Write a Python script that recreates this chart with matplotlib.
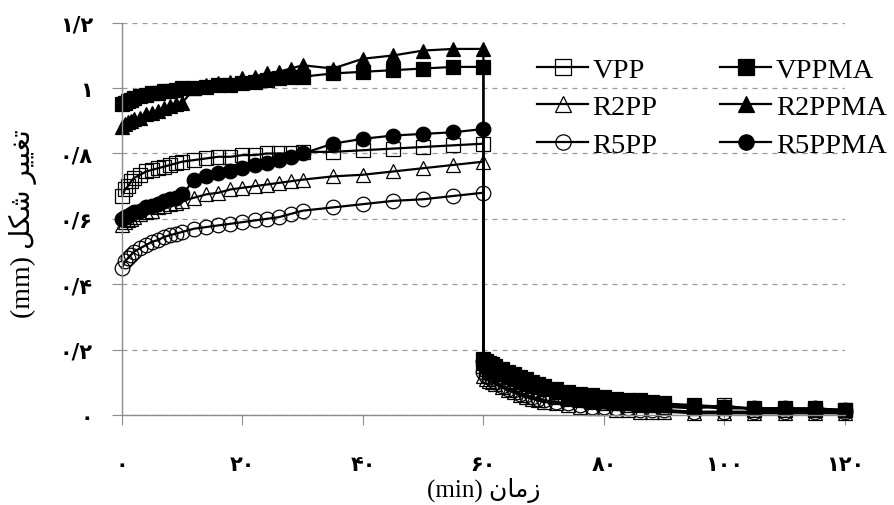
import matplotlib.pyplot as plt

# sampling times (min): creep 0-60, then recovery 60-120
creep_t = [0, 0.5, 1, 1.5, 2, 3, 4, 5, 6, 7, 8, 9, 10, 12, 14, 16, 18, 20, 22, 24, 26, 28, 30,
           35, 40, 45, 50, 55, 60]
rec_t = [60, 60.5, 61, 61.5, 62, 63, 64, 65, 66, 67, 68, 69, 70, 72, 74, 76, 78, 80, 82, 84, 86, 88, 90,
         95, 100, 105, 110, 115, 120]

vpp_creep = [0.67, 0.69, 0.70, 0.715, 0.725, 0.735, 0.745, 0.75, 0.755, 0.76, 0.765, 0.77, 0.775, 0.78,
             0.785, 0.79, 0.79, 0.795, 0.795, 0.80, 0.80, 0.80, 0.805, 0.805, 0.81, 0.815, 0.82, 0.825, 0.83]
vpp_rec = [0.15, 0.14, 0.135, 0.13, 0.125, 0.115, 0.105, 0.095, 0.09, 0.08, 0.075, 0.07, 0.065, 0.055,
           0.05, 0.045, 0.04, 0.035, 0.035, 0.03, 0.03, 0.03, 0.025, 0.02, 0.03, 0.015, 0.015, 0.015, 0.015]

r2pp_creep = [0.58, 0.59, 0.595, 0.60, 0.605, 0.615, 0.62, 0.625, 0.635, 0.64, 0.645, 0.65, 0.655, 0.665,
              0.675, 0.68, 0.69, 0.695, 0.70, 0.705, 0.71, 0.715, 0.72, 0.73, 0.735, 0.745, 0.755, 0.765, 0.775]
r2pp_rec = [0.12, 0.11, 0.105, 0.10, 0.095, 0.085, 0.075, 0.07, 0.06, 0.055, 0.05, 0.045, 0.04, 0.035,
            0.03, 0.025, 0.02, 0.02, 0.015, 0.015, 0.01, 0.01, 0.01, 0.005, 0.005, 0.005, 0.005, 0.005, 0.005]

r5pp_creep = [0.45, 0.47, 0.48, 0.49, 0.50, 0.51, 0.52, 0.53, 0.535, 0.545, 0.55, 0.555, 0.56, 0.57,
              0.575, 0.58, 0.585, 0.59, 0.595, 0.60, 0.605, 0.615, 0.625, 0.635, 0.645, 0.655, 0.66, 0.67, 0.68]
r5pp_rec = [0.13, 0.12, 0.115, 0.11, 0.10, 0.09, 0.08, 0.075, 0.065, 0.06, 0.055, 0.05, 0.045, 0.04,
            0.035, 0.03, 0.025, 0.025, 0.02, 0.02, 0.015, 0.015, 0.015, 0.01, 0.01, 0.01, 0.01, 0.01, 0.01]

vppma_creep = [0.95, 0.955, 0.96, 0.965, 0.97, 0.975, 0.98, 0.985, 0.985, 0.99, 0.99, 0.995, 1.0, 1.0,
               1.005, 1.01, 1.01, 1.015, 1.02, 1.025, 1.03, 1.035, 1.035, 1.045, 1.05, 1.055, 1.06, 1.065, 1.065]
vppma_rec = [0.17, 0.165, 0.16, 0.155, 0.15, 0.14, 0.13, 0.125, 0.115, 0.11, 0.10, 0.095, 0.09, 0.08,
             0.07, 0.065, 0.06, 0.055, 0.05, 0.045, 0.045, 0.04, 0.035, 0.03, 0.025, 0.02, 0.02, 0.02, 0.015]

r2ppma_creep = [0.88, 0.89, 0.895, 0.90, 0.905, 0.91, 0.92, 0.925, 0.93, 0.94, 0.945, 0.95, 0.955, 1.0,
                1.01, 1.015, 1.02, 1.03, 1.035, 1.045, 1.05, 1.06, 1.07, 1.06, 1.09, 1.10, 1.115, 1.12, 1.12]
r2ppma_rec = [0.16, 0.15, 0.145, 0.14, 0.135, 0.125, 0.115, 0.11, 0.10, 0.095, 0.09, 0.085, 0.08, 0.07,
              0.06, 0.055, 0.05, 0.045, 0.04, 0.04, 0.035, 0.03, 0.03, 0.025, 0.02, 0.02, 0.02, 0.015, 0.015]

r5ppma_creep = [0.60, 0.605, 0.61, 0.615, 0.62, 0.625, 0.635, 0.64, 0.645, 0.655, 0.66, 0.665, 0.675, 0.72,
                0.73, 0.74, 0.745, 0.755, 0.765, 0.77, 0.78, 0.79, 0.80, 0.83, 0.845, 0.855, 0.86, 0.865, 0.875]
r5ppma_rec = [0.165, 0.155, 0.15, 0.145, 0.14, 0.13, 0.12, 0.115, 0.105, 0.10, 0.095, 0.085, 0.08, 0.07,
              0.065, 0.06, 0.055, 0.05, 0.045, 0.04, 0.04, 0.035, 0.03, 0.025, 0.025, 0.02, 0.02, 0.02, 0.015]

x_ticks = [0, 20, 40, 60, 80, 100, 120]
x_ticklabels = ['۰', '۲۰', '۴۰', '۶۰', '۸۰', '۱۰۰', '۱۲۰']
y_ticks = [0, 0.2, 0.4, 0.6, 0.8, 1.0, 1.2]
y_ticklabels = ['۰', '۰/۲', '۰/۴', '۰/۶', '۰/۸', '۱', '۱/۲']

# arabic text written in presentation forms, visual order (matplotlib does no shaping)
x_label = '(min) \uFEE5\uFE8E\uFEE3\uFEAF'
y_label = '(mm) \uFEDE\uFEDC\uFEB7 \uFEAE\uFEF4\uFEF4\uFED0\uFE97'

FAMILY = ['Liberation Serif', 'DejaVu Sans']

fig = plt.figure(figsize=(8.94, 5.06), dpi=100)
ax = fig.add_axes([0.1365, 0.178, 0.8085, 0.775])

time = creep_t + rec_t
series = [
    ('VPP', vpp_creep + vpp_rec, 's', False),
    ('VPPMA', vppma_creep + vppma_rec, 's', True),
    ('R2PP', r2pp_creep + r2pp_rec, '^', False),
    ('R2PPMA', r2ppma_creep + r2ppma_rec, '^', True),
    ('R5PP', r5pp_creep + r5pp_rec, 'o', False),
    ('R5PPMA', r5ppma_creep + r5ppma_rec, 'o', True),
]
handles = {}
for name, vals, mk, filled in series:
    ln, = ax.plot(time, vals, color='black', lw=1.6, marker=mk, markersize=10.5,
                  markerfacecolor='black' if filled else 'none', markeredgecolor='black',
                  markeredgewidth=0.9, clip_on=False, label=name)
    handles[name] = ln

ax.set_xlim(0, 120)
ax.set_ylim(0, 1.2)
ax.set_xticks(x_ticks)
ax.set_xticklabels(x_ticklabels, fontweight='bold', fontsize=15, family='DejaVu Sans')
ax.set_yticks(y_ticks)
ax.set_yticklabels(y_ticklabels, fontweight='bold', fontsize=15, family='DejaVu Sans')
ax.tick_params(axis='x', direction='out', length=7, color='#8c8c8c', pad=21)
ax.tick_params(axis='y', direction='out', length=7, color='#8c8c8c', pad=14)

ax.yaxis.grid(True, linestyle=(0, (4, 4)), color='#999999', lw=0.9)
ax.set_axisbelow(True)
for s in ['top', 'right']:
    ax.spines[s].set_visible(False)
for s in ['left', 'bottom']:
    ax.spines[s].set_color('#8c8c8c')
    ax.spines[s].set_linewidth(1.0)

ax.set_xlabel(x_label, fontsize=18, family=FAMILY, labelpad=2)
ax.set_ylabel(y_label, fontsize=20, family=FAMILY)
ax.yaxis.set_label_coords((37 - 122) / 723, 0.49)

order = ['VPP', 'R2PP', 'R5PP', 'VPPMA', 'R2PPMA', 'R5PPMA']
fig.legend([handles[n] for n in order], order, ncol=2, loc='upper left',
           bbox_to_anchor=(537 / 894, 1 - 58 / 506), frameon=False,
           prop={'family': 'Liberation Serif', 'size': 20.5}, borderpad=0, borderaxespad=0,
           handlelength=1.8, handletextpad=0.15, columnspacing=2.2, labelspacing=0.4,
           markerscale=1.05)

fig.savefig('out.png', dpi=100)
